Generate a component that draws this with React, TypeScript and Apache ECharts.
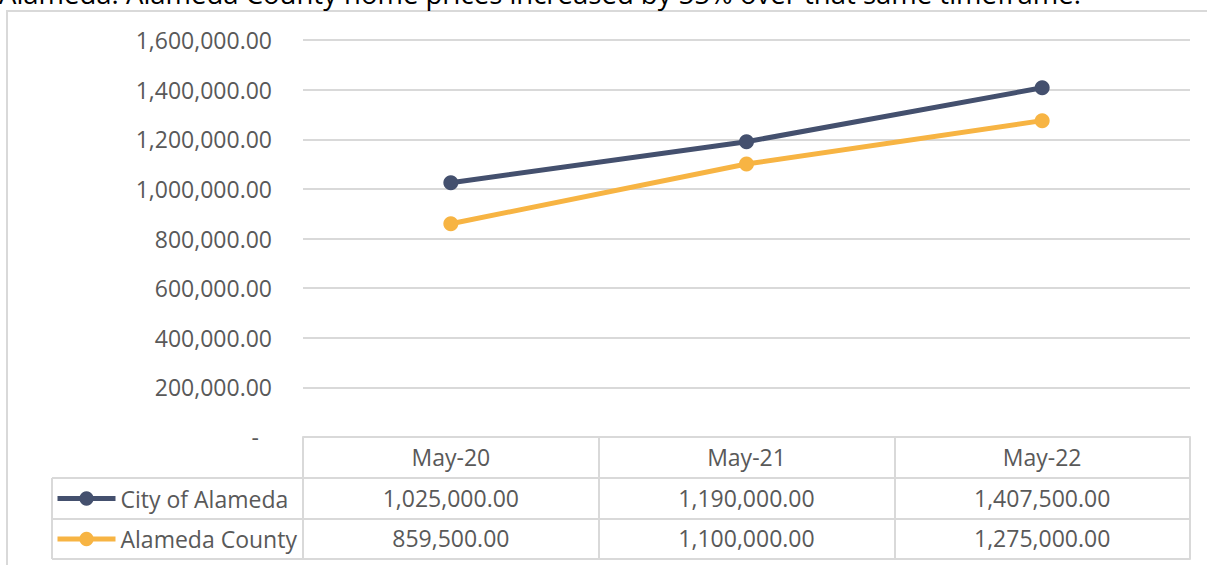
import React, { useEffect, useRef } from "react";
import * as echarts from "echarts";

const categories = ["May-20", "May-21", "May-22"];
const seriesNames = ["City of Alameda", "Alameda County"];
const cityValues = [1025000, 1190000, 1407500];
const countyValues = [859500, 1100000, 1275000];
const yTicks = { min: 0, max: 1600000, interval: 200000 };
const introText = "Alameda. Alameda County home prices increased by 55% over that same timeframe.";

const FONT = "'Open Sans', sans-serif";
const TEXT = "#595959";
const GRID = "#D9D9D9";
const NAVY = "#44506E";
const GOLD = "#F7B443";

const fmt = (v: number) =>
  v.toLocaleString("en-US", { minimumFractionDigits: 2, maximumFractionDigits: 2 });

export default function App() {
  const ref = useRef<HTMLDivElement>(null);
  useEffect(() => {
    if (!ref.current) return;
    const chart = echarts.init(ref.current, undefined, { renderer: "svg" });
    const gridLeft = 303;
    const gridRight = 1190;
    const axisY = 437;
    const rowH = [41, 41, 40];
    const labelStyle = { fontFamily: FONT, fontSize: 23, color: TEXT };
    const tableAxis = (offset: number, rowIdx: number, values: string[] | null, tickLen: number) => ({
      type: "category",
      data: categories,
      gridIndex: 0,
      position: "bottom",
      offset,
      boundaryGap: true,
      axisLine: { show: true, lineStyle: { color: GRID, width: 2 } },
      axisTick: { show: tickLen > 0, interval: 0, length: tickLen, lineStyle: { color: GRID, width: 2 } },
      axisLabel: {
        show: values !== null,
        interval: 0,
        margin: rowIdx >= 0 ? rowH[rowIdx] / 2 - 1 : 0,
        verticalAlign: "middle",
        ...labelStyle,
        formatter: (_v: string, i: number) => (values ? values[i] : ""),
      },
      splitLine: { show: false },
    });
    const rowTops = [axisY, axisY + rowH[0], axisY + rowH[0] + rowH[1], axisY + rowH[0] + rowH[1] + rowH[2]];
    const legendLeft = 55;
    const legendBase = {
      left: legendLeft,
      padding: 0,
      itemWidth: 58,
      itemHeight: 18,
      itemGap: 0,
      lineStyle: { width: 5 },
      textStyle: { ...labelStyle, lineHeight: 28, padding: [0, 0, 0, 0] },
    };
    chart.setOption({
      animation: false,
      backgroundColor: "#ffffff",
      grid: { left: gridLeft, right: 1207 - gridRight, top: 40, bottom: 565 - axisY, containLabel: false },
      xAxis: [
        tableAxis(0, 0, categories, rowH[0]),
        tableAxis(rowH[0], 1, cityValues.map(fmt), rowH[1]),
        tableAxis(rowH[0] + rowH[1], 2, countyValues.map(fmt), rowH[2]),
        tableAxis(rowH[0] + rowH[1] + rowH[2], -1, null, 0),
      ],
      yAxis: {
        type: "value",
        min: yTicks.min,
        max: yTicks.max,
        interval: yTicks.interval,
        axisLine: { show: false },
        axisTick: { show: false },
        axisLabel: {
          margin: 31,
          ...labelStyle,
          formatter: (v: number) => (v === 0 ? "-\u2007" : fmt(v)),
        },
        splitLine: { lineStyle: { color: GRID, width: 2 } },
      },
      legend: [
        { ...legendBase, data: [seriesNames[0]], top: rowTops[1] + rowH[1] / 2 - 14 },
        { ...legendBase, data: [seriesNames[1]], top: rowTops[2] + rowH[2] / 2 - 14 },
      ],
      series: [
        {
          name: seriesNames[0],
          type: "line",
          data: cityValues,
          symbol: "circle",
          symbolSize: 15,
          lineStyle: { color: NAVY, width: 5 },
          itemStyle: { color: NAVY },
          emphasis: { disabled: true },
        },
        {
          name: seriesNames[1],
          type: "line",
          data: countyValues,
          symbol: "circle",
          symbolSize: 15,
          lineStyle: { color: GOLD, width: 5 },
          itemStyle: { color: GOLD },
          emphasis: { disabled: true },
        },
      ],
      graphic: [
        {
          type: "text",
          left: -1,
          top: -21,
          style: { text: introText, fontFamily: FONT, fontSize: 27.5, fill: "#000000" },
          silent: true,
        },
        {
          type: "rect",
          shape: { x: 7, y: 11, width: 1300, height: 700 },
          style: { fill: "none", stroke: GRID, lineWidth: 2 },
          silent: true,
          z: -1,
        },
        ...[rowTops[1], rowTops[2], rowTops[3]].map((y) => ({
          type: "line",
          shape: { x1: 52, y1: y, x2: gridLeft, y2: y },
          style: { stroke: GRID, lineWidth: 2 },
          silent: true,
        })),
        {
          type: "line",
          shape: { x1: 52, y1: rowTops[1], x2: 52, y2: rowTops[3] },
          style: { stroke: GRID, lineWidth: 2 },
          silent: true,
        },
      ],
    });
    return () => chart.dispose();
  }, []);
  return (
    <div
      ref={ref}
      style={{ position: "fixed", left: 0, top: 0, width: 1207, height: 565, overflow: "hidden" }}
    />
  );
}
